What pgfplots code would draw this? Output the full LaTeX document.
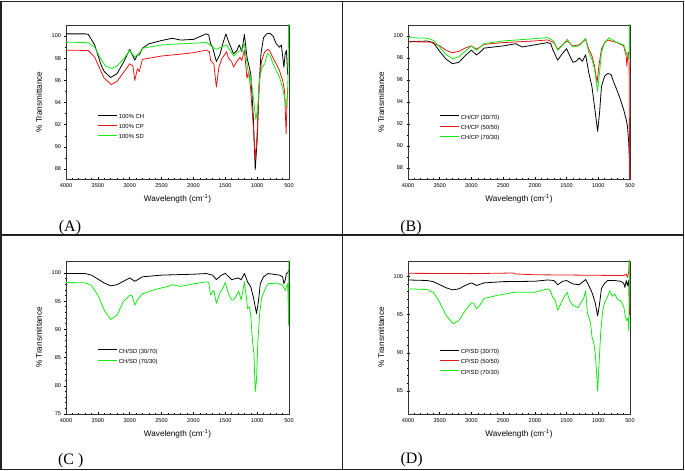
\documentclass[border=0pt]{standalone}
\usepackage{pgfplots}
\pgfplotsset{compat=1.18}
\usepackage{fontspec}
\setmainfont{Liberation Sans}
\newfontfamily\timesfont{Liberation Serif}
\definecolor{cblack}{RGB}{0,0,0}
\definecolor{cred}{RGB}{235,20,20}
\definecolor{cgreen}{RGB}{20,235,20}
\definecolor{frame}{RGB}{34,34,34}
\newcommand{\pct}{\char"25\relax}
\pgfplotsset{
  spec/.style={
    scale only axis,
    x dir=reverse,
    xmin=500, xmax=4000,
    xtick={500,1000,...,4000},
    minor x tick num=4,
    xtick pos=bottom, ytick pos=left,
    tick align=center,
    major tick length=3bp, minor tick length=2bp,
    tick style={line width=0.5bp, black},
    axis line style={line width=0.6bp, black!80},
    /pgf/number format/assume math mode=true,
    /pgf/number format/1000 sep={},
    ticklabel style={font=\fontsize{5.6}{6}\selectfont},
    label style={font=\fontsize{8.2}{9}\selectfont},
    xlabel={Wavelength (cm\textsuperscript{-1})},
    ylabel={\% Transmittance},
    xlabel style={at={(axis description cs:0.5,0)}, anchor=center, yshift=-20bp},
    ylabel style={at={(axis description cs:-0.121,0.5)}, anchor=center},
    legend cell align=left,
    legend style={draw=none, fill=none, inner sep=0pt,
      font=\fontsize{5.9}{7}\selectfont,
      nodes={inner sep=1.2bp}, row sep=2.2bp},
    legend image code/.code={\draw[#1, line width=0.9bp] (0bp,2bp) -- (19bp,2bp);},
    every axis plot/.append style={line width=0.8bp, line join=round},
  }
}
\begin{document}
\begin{tikzpicture}
\path[use as bounding box] (0bp,0bp) rectangle (685bp,471bp);
% frame
\draw[frame, line width=1.6bp] (1bp,1.5bp) rectangle (683.5bp,469.5bp);
\draw[frame, line width=1.6bp] (342.3bp,1.5bp) -- (342.3bp,469.5bp);
\draw[frame, line width=1.6bp] (1bp,236bp) -- (683.5bp,236bp);

% ---------------- (A)
\begin{axis}[spec, at={(66bp,292bp)}, anchor=south west, width=223bp, height=154bp,
  ymin=87.1, ymax=101, ytick={88,90,...,100}, minor y tick num=1,
  legend style={at={(axis description cs:0.142,0.43)}, anchor=north west}]
\addplot[cblack] coordinates {(4000,100.2)(3700,100.2)(3650,100.15)(3550,99.2)(3450,97.4)(3400,96.8)(3300,96.26)(3200,96.6)(3100,97.6)(3000,98.8)(2920,97.83)(2880,98.3)(2850,98.3)(2800,98.9)(2700,99.3)(2500,99.6)(2330,99.8)(2200,99.64)(2000,99.7)(1800,100.2)(1760,100.1)(1730,99.3)(1700,99.0)(1640,97.7)(1580,98.4)(1540,99.3)(1490,100.2)(1450,99.5)(1420,99.1)(1370,98.4)(1320,98.7)(1280,99.2)(1240,98.6)(1200,100.15)(1160,98.1)(1100,96.6)(1060,92.7)(1030,87.94)(1000,90.6)(970,95.4)(940,98.4)(900,99.85)(850,100.2)(800,100.25)(750,100.0)(700,99.3)(650,99.0)(620,99.2)(580,97.2)(560,98.4)(540,98.7)(520,96.5)};
\addlegendentry{{100\pct{} CH}}
\addplot[cred] coordinates {(4000,98.73)(3650,98.7)(3550,98.1)(3450,96.8)(3400,96.2)(3290,95.63)(3200,95.9)(3100,96.7)(3000,97.5)(2950,97.3)(2920,96.0)(2880,97.05)(2850,96.8)(2800,97.9)(2500,98.2)(2200,98.37)(2000,98.5)(1800,98.73)(1750,98.6)(1730,97.8)(1680,97.5)(1640,95.4)(1600,97.2)(1550,98.0)(1500,98.4)(1480,98.6)(1450,98.0)(1400,97.7)(1370,97.2)(1320,97.7)(1270,98.1)(1240,97.8)(1200,98.73)(1160,96.2)(1130,96.8)(1100,95.1)(1060,91.8)(1030,88.85)(1000,91.2)(970,95.4)(930,97.8)(880,98.6)(830,98.8)(800,98.65)(750,98.0)(700,97.5)(650,96.9)(600,96.0)(570,95.1)(545,91.2)(530,94.2)(520,95.4)};
\addlegendentry{{100\pct{} CP}}
\addplot[cgreen] coordinates {(4000,99.46)(3650,99.4)(3550,99.0)(3450,97.9)(3380,97.3)(3280,97.08)(3200,97.3)(3100,97.9)(3000,98.7)(2920,98.1)(2850,98.45)(2800,98.9)(2500,99.2)(2200,99.3)(2000,99.35)(1800,99.43)(1740,99.2)(1700,99.0)(1640,98.8)(1560,99.0)(1480,99.2)(1420,98.7)(1370,98.2)(1300,98.6)(1240,98.7)(1200,99.3)(1160,97.5)(1120,96.0)(1100,96.3)(1060,94.5)(1020,92.46)(990,93.6)(960,96.3)(920,97.2)(880,97.5)(840,98.43)(800,98.3)(750,97.5)(700,96.9)(650,96.3)(600,95.3)(560,94.2)(540,93.6)(520,94.8)(510,99)(505,102)};
\addlegendentry{{100\pct{} SD}}
\end{axis}

% ---------------- (B)
\begin{axis}[spec, at={(408bp,292bp)}, anchor=south west, width=222bp, height=154bp,
  ymin=87, ymax=101, ytick={88,90,...,100}, minor y tick num=1,
  legend style={at={(axis description cs:0.142,0.425)}, anchor=north west}]
\addplot[cblack] coordinates {(4000,99.48)(3700,99.54)(3600,99.4)(3500,98.6)(3400,97.9)(3300,97.48)(3200,97.6)(3100,98.2)(3000,98.72)(2920,98.27)(2850,98.6)(2800,98.9)(2500,99.1)(2300,99.3)(2200,99.0)(2000,99.2)(1800,99.4)(1750,99.3)(1720,98.8)(1640,97.8)(1580,98.3)(1500,98.85)(1450,98.2)(1400,97.6)(1350,97.7)(1300,98.0)(1250,97.7)(1200,98.3)(1150,96.66)(1100,95.4)(1060,93.6)(1010,91.34)(980,93.0)(950,95.4)(900,96.35)(850,96.6)(800,96.5)(750,95.7)(700,95.0)(650,94.2)(600,93.3)(560,92.4)(540,91.8)(520,90.3)(510,88.8)};
\addlegendentry{CH/CP (30/70)}
\addplot[cred] coordinates {(4000,99.48)(3650,99.45)(3500,99.1)(3400,98.7)(3300,98.48)(3200,98.6)(3100,98.9)(3000,99.1)(2920,98.8)(2800,99.25)(2500,99.4)(2000,99.55)(1800,99.64)(1700,99.4)(1640,98.8)(1550,99.25)(1490,99.55)(1400,99.1)(1300,99.2)(1200,99.7)(1150,98.8)(1100,98.2)(1060,97.3)(1020,95.75)(990,97.3)(950,98.8)(900,99.4)(850,99.64)(800,99.55)(700,99.4)(600,99.1)(560,98.2)(550,97.27)(530,98.5)(515,98.5)(505,86)};
\addlegendentry{CH/CP (50/50)}
\addplot[cgreen] coordinates {(4000,99.85)(3700,99.8)(3600,99.6)(3500,99.0)(3400,98.3)(3290,97.93)(3200,98.1)(3100,98.6)(3000,99.1)(2920,98.7)(2800,99.3)(2500,99.55)(2000,99.76)(1800,99.85)(1700,99.55)(1640,98.7)(1550,99.25)(1490,99.7)(1400,99.0)(1300,99.1)(1200,99.8)(1150,98.5)(1100,97.9)(1060,97.0)(1010,94.99)(980,96.7)(950,98.5)(900,99.4)(830,99.85)(800,99.7)(700,99.4)(600,99.2)(560,98.5)(530,98.2)(520,97.9)(510,98.5)(505,102)};
\addlegendentry{CH/CP (70/30)}
\end{axis}

% ---------------- (C)
\begin{axis}[spec, at={(66bp,57bp)}, anchor=south west, width=223bp, height=153bp,
  ymin=75, ymax=102.1, ytick={75,80,...,100}, minor y tick num=4,
  legend style={at={(axis description cs:0.142,0.435)}, anchor=north west}]
\addplot[cblack] coordinates {(4000,99.88)(3700,99.88)(3600,99.6)(3500,98.9)(3400,98.2)(3300,97.7)(3200,97.9)(3100,98.5)(3000,99.1)(2920,98.5)(2800,99.3)(2500,99.6)(2000,99.76)(1800,99.88)(1700,99.6)(1640,98.8)(1560,99.6)(1500,99.9)(1400,98.8)(1300,99.1)(1250,98.8)(1200,99.9)(1150,98.4)(1100,97.5)(1060,95.75)(1010,92.8)(980,94.9)(950,98.1)(900,99.3)(830,99.88)(750,99.76)(650,99.6)(600,99.3)(580,98.1)(560,98.7)(540,99.9)(520,100.0)(505,100.5)};
\addlegendentry{CH/SD (30/70)}
\addplot[cgreen] coordinates {(4000,98.29)(3700,98.23)(3600,97.8)(3500,96.05)(3400,93.4)(3300,91.75)(3200,92.5)(3100,94.87)(3000,96.05)(2960,95.9)(2920,94.3)(2880,95.2)(2800,96.3)(2600,97.05)(2400,97.6)(2330,97.9)(2200,97.6)(2000,98.05)(1800,98.4)(1760,98.3)(1730,96.05)(1700,96.6)(1680,96.9)(1640,94.6)(1580,96.6)(1540,97.2)(1500,98.3)(1450,96.3)(1400,95.2)(1370,95.2)(1320,96.05)(1290,96.8)(1250,95.2)(1200,98.4)(1170,95.75)(1150,93.7)(1120,94.0)(1100,92.3)(1070,87.5)(1050,85.8)(1030,78.95)(1010,81.0)(990,87.5)(960,92.8)(930,95.5)(900,96.4)(860,97.5)(820,98.1)(760,98.1)(700,98.2)(650,98.0)(600,97.8)(560,96.9)(540,97.5)(520,98.1)(505,90.7)(502,103)};
\addlegendentry{CH/SD (70/30)}
\end{axis}

% ---------------- (D)
\begin{axis}[spec, at={(408bp,57bp)}, anchor=south west, width=222bp, height=153bp,
  ymin=82, ymax=102, ytick={85,90,...,100}, minor y tick num=4,
  legend style={at={(axis description cs:0.142,0.432)}, anchor=north west}]
\addplot[cblack] coordinates {(4000,99.52)(3700,99.45)(3600,99.3)(3500,98.9)(3400,98.5)(3300,98.23)(3200,98.35)(3100,98.8)(3000,99.14)(2920,98.8)(2800,99.14)(2500,99.3)(2000,99.35)(1800,99.52)(1700,99.45)(1640,98.9)(1560,99.35)(1500,99.45)(1400,99.0)(1300,98.9)(1200,99.57)(1150,98.8)(1100,97.9)(1050,96.6)(1010,94.8)(980,96.4)(950,98.4)(900,99.1)(850,99.45)(750,99.45)(650,99.35)(600,99.1)(580,98.55)(560,99.45)(540,98.8)(520,99.45)(505,94.9)};
\addlegendentry{CP/SD (30/70)}
\addplot[cred] coordinates {(4000,100.39)(3000,100.35)(2340,100.43)(2300,100.3)(2000,100.2)(1000,100.13)(600,100.09)(560,100.3)(540,99.87)(520,100.5)(508,103)(504,94.9)};
\addlegendentry{CP/SD (50/50)}
\addplot[cgreen] coordinates {(4000,98.36)(3700,98.27)(3600,97.9)(3500,96.6)(3400,94.9)(3290,93.8)(3200,94.2)(3100,95.5)(3000,96.54)(2960,96.5)(2920,95.76)(2870,96.2)(2800,97.1)(2600,97.5)(2400,97.8)(2340,97.9)(2000,97.92)(1800,98.36)(1760,98.2)(1720,97.3)(1680,96.9)(1640,95.55)(1580,96.6)(1540,97.3)(1490,97.9)(1450,96.8)(1400,96.2)(1320,95.9)(1270,96.6)(1230,97.1)(1200,98.1)(1170,95.1)(1150,94.7)(1120,93.8)(1100,92.1)(1070,91.2)(1050,90.0)(1030,87.8)(1010,85.0)(990,88.2)(960,92.9)(930,95.5)(900,96.6)(860,97.2)(820,98.1)(780,97.4)(740,97.7)(700,97.0)(650,96.8)(600,96.1)(570,94.6)(550,94.2)(530,94.6)(520,92.9)(510,98)(505,103)};
\addlegendentry{CP/SD (70/30)}
\end{axis}

% panel labels
\node[font=\timesfont\fontsize{16}{16}\selectfont] at (70bp,243bp) {(A)};
\node[font=\timesfont\fontsize{16}{16}\selectfont] at (411bp,243bp) {(B)};
\node[font=\timesfont\fontsize{16}{16}\selectfont] at (70.7bp,10bp) {(C )};
\node[font=\timesfont\fontsize{16}{16}\selectfont] at (411.7bp,11bp) {(D)};
\end{tikzpicture}
\end{document}
